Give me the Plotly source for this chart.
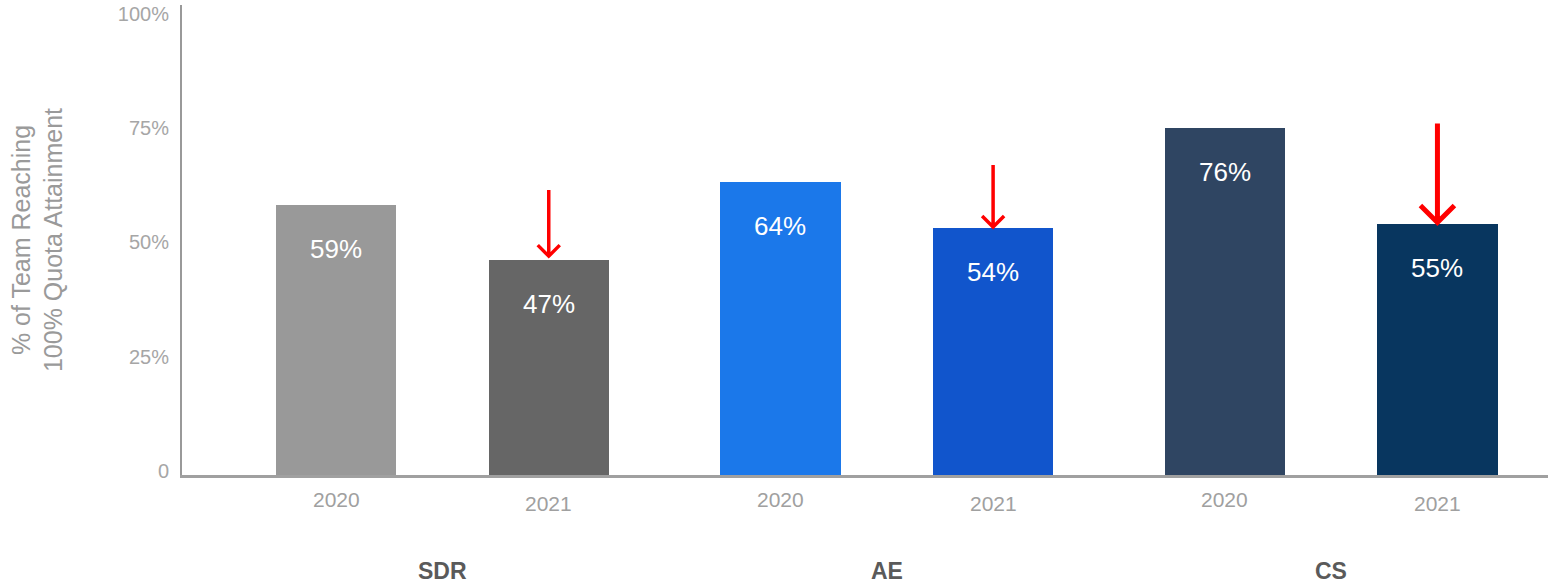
import plotly.graph_objects as go

# Quota attainment by team and year
teams = ["SDR", "AE", "CS"]
years = ["2020", "2021"]
values = {
    "SDR": [59, 47],
    "AE": [64, 54],
    "CS": [76, 55],
}
bar_colors = {
    "SDR": ["#999999", "#666666"],
    "AE": ["#1b78ea", "#1155cc"],
    "CS": ["#2f4562", "#08365f"],
}
y_ticks = [0, 25, 50, 75, 100]
y_tick_labels = ["0", "25%", "50%", "75%", "100%"]

# layout: year bars one unit apart, groups a bit further apart
GROUP_STEP = 2.09
BAR_WIDTH = 0.565

FONT = "Liberation Sans, Arial"

# red "drop" arrows above the 2021 bars: (shaft length px, head size px, line width)
arrow_style = {"SDR": (66, 11, 3.5), "AE": (62, 11, 3.5), "CS": (99, 17, 5)}

fig = go.Figure()

xs, ys, cols, tick_vals, tick_text = [], [], [], [], []
for g, team in enumerate(teams):
    for j, yr in enumerate(years):
        x = g * GROUP_STEP + j
        xs.append(x)
        ys.append(values[team][j])
        cols.append(bar_colors[team][j])
        tick_vals.append(x)
        tick_text.append(yr)

fig.add_trace(go.Bar(
    x=xs, y=ys, width=BAR_WIDTH,
    marker=dict(color=cols, line=dict(width=0)),
    hoverinfo="skip", showlegend=False,
))

# value labels inside each bar, near the top
for x, v in zip(xs, ys):
    fig.add_annotation(
        x=x, y=v, text=f"{v}%", showarrow=False,
        yanchor="middle", yshift=-44,
        font=dict(family=FONT, size=26, color="white"),
    )

# year tick labels (2021 sits slightly lower)
for x, t in zip(tick_vals, tick_text):
    fig.add_annotation(
        x=x, xref="x", y=0, yref="y", text=t, showarrow=False,
        yanchor="middle", yshift=-24 if t == "2020" else -28,
        font=dict(family=FONT, size=21, color="#a0a0a0"),
    )

# team group labels centred under each pair of bars
for g, team in enumerate(teams):
    fig.add_annotation(
        x=g * GROUP_STEP + 0.5, xref="x", y=0, yref="y", text=f"<b>{team}</b>",
        showarrow=False, yanchor="middle", yshift=-96,
        font=dict(family=FONT, size=23, color="#5a5a5a"),
    )

# downward arrows pointing at the 2021 bar tops
for g, team in enumerate(teams):
    x = g * GROUP_STEP + 1
    v = values[team][1]
    length, head, lw = arrow_style[team]
    gap = 4 if team == "SDR" else 1
    path = (f"M 0,{gap + length} L 0,{gap} "
            f"M {-head},{gap + head} L 0,{gap} L {head},{gap + head}")
    fig.add_shape(
        type="path", xref="x", yref="y",
        xsizemode="pixel", ysizemode="pixel",
        xanchor=x, yanchor=v, path=path,
        line=dict(color="#ff0000", width=lw), layer="above",
    )

fig.update_layout(
    width=1548, height=584,
    margin=dict(l=182, r=0, t=5, b=109),
    plot_bgcolor="white", paper_bgcolor="white",
    bargap=0,
    xaxis=dict(
        range=[-0.725, 5.70], showticklabels=False, ticks="",
        showgrid=False, zeroline=False,
        showline=True, linecolor="#a0a0a0", linewidth=3,
    ),
    yaxis=dict(
        range=[0, 102.8], tickvals=y_ticks, ticktext=y_tick_labels,
        ticks="", showgrid=False, zeroline=False,
        showline=True, linecolor="#999999", linewidth=2,
        tickfont=dict(family=FONT, size=20, color="#a6a6a6"),
        ticklabelstandoff=7, ticklabelshift=-4,
        title=dict(
            text="% of Team Reaching<br>100% Quota Attainment",
            font=dict(family=FONT, size=25, color="#9a9a9a"),
            standoff=48,
        ),
    ),
)

fig.write_html("out.html")
